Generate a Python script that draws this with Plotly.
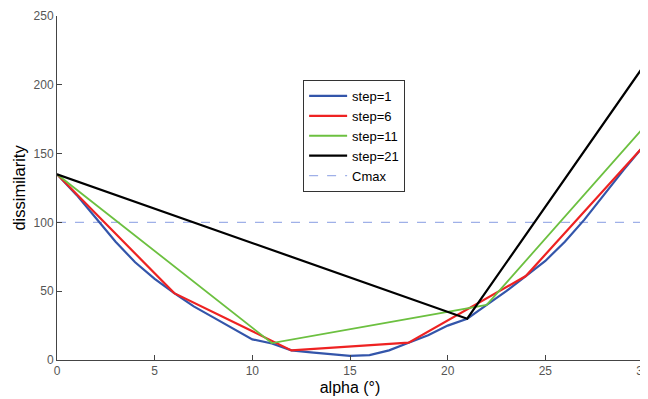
import plotly.graph_objects as go

alpha_1 = list(range(0, 31))
diss_1 = [135, 120, 103, 86, 71, 59, 48.6, 39, 31, 23, 15, 12, 7, 5.5, 4, 3,
          3.5, 7, 12.5, 18, 25, 30, 40, 50, 61, 72, 86, 102, 120, 138, 155]
alpha_6 = [0, 6, 12, 18, 24, 30]
diss_6 = [135, 48.6, 7, 12.6, 61, 155]
alpha_11 = [0, 11, 22, 30]
diss_11 = [135, 12.3, 40, 168.5]
alpha_21 = [0, 21, 30]
diss_21 = [135, 30, 213]
cmax = 100

x_ticks = [0, 5, 10, 15, 20, 25, 30]
y_ticks = [0, 50, 100, 150, 200, 250]

fig = go.Figure()
fig.add_trace(go.Scatter(x=[0, 30], y=[cmax, cmax], mode="lines", name="Cmax",
                         line=dict(color="#9fb0e8", width=1.3, dash="dash"), legendrank=5))
fig.add_trace(go.Scatter(x=alpha_1, y=diss_1, mode="lines", name="step=1",
                         line=dict(color="#3355aa", width=2.2), legendrank=1))
fig.add_trace(go.Scatter(x=alpha_6, y=diss_6, mode="lines", name="step=6",
                         line=dict(color="#ee2222", width=2.2), legendrank=2))
fig.add_trace(go.Scatter(x=alpha_11, y=diss_11, mode="lines", name="step=11",
                         line=dict(color="#6cc040", width=1.8), legendrank=3))
fig.add_trace(go.Scatter(x=alpha_21, y=diss_21, mode="lines", name="step=21",
                         line=dict(color="#000000", width=2.2), legendrank=4))

axis_common = dict(showgrid=False, zeroline=False, showline=True, linecolor="#444444",
                   linewidth=1, ticks="inside", ticklen=5, tickcolor="#444444",
                   tickfont=dict(family="Arial, Liberation Sans", size=12, color="#555555"))
# The page body has an 8px margin; the figure is offset accordingly.
fig.update_layout(
    width=648, height=391,
    margin=dict(l=49, r=13, t=8, b=39, autoexpand=False),
    paper_bgcolor="white", plot_bgcolor="white",
    font=dict(family="Arial, Liberation Sans"),
    xaxis=dict(range=[0, 30], tickvals=x_ticks, **axis_common,
               title=dict(text="alpha (°)", font=dict(size=16, color="#000000"), standoff=4)),
    yaxis=dict(range=[0, 250], tickvals=y_ticks, **axis_common,
               title=dict(text="dissimilarity", font=dict(size=16.5, color="#000000"), standoff=3)),
    legend=dict(x=0.42, y=0.814, xanchor="left", yanchor="top",
                bgcolor="white", bordercolor="#333333", borderwidth=1,
                font=dict(size=13, color="#000000"), tracegroupgap=0,
                itemwidth=38),
    showlegend=True,
)
fig.write_html("out.html")
